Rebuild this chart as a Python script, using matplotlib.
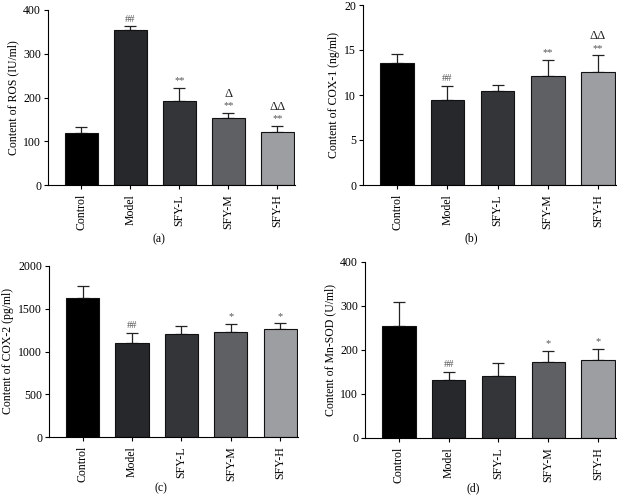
import matplotlib.pyplot as plt
import numpy as np

plt.rcParams["font.family"] = ["Liberation Serif", "DejaVu Serif"]

groups = ["Control", "Model", "SFY-L", "SFY-M", "SFY-H"]
colors = ["#000000", "#27282b", "#343539", "#5f6064", "#9c9ea1"]

ros = [120, 355, 193, 153, 122]
ros_err = [13, 8, 29, 12, 13]
ros_stars = ["", "##", "**", "**", "**"]
ros_delta = ["", "", "", "Δ", "ΔΔ"]

cox1 = [13.6, 9.5, 10.4, 12.1, 12.6]
cox1_err = [1.0, 1.5, 0.7, 1.8, 1.8]
cox1_stars = ["", "##", "", "**", "**"]
cox1_delta = ["", "", "", "", "ΔΔ"]

cox2 = [1620, 1095, 1200, 1230, 1260]
cox2_err = [150, 125, 100, 95, 70]
cox2_stars = ["", "##", "", "*", "*"]
cox2_delta = ["", "", "", "", ""]

mnsod = [255, 132, 140, 173, 177]
mnsod_err = [53, 18, 30, 25, 26]
mnsod_stars = ["", "##", "", "*", "*"]
mnsod_delta = ["", "", "", "", ""]

panels = [
    (ros, ros_err, ros_stars, ros_delta, "Content of ROS (IU/ml)", 400, 100, "(a)"),
    (cox1, cox1_err, cox1_stars, cox1_delta, "Content of COX-1 (ng/ml)", 20, 5, "(b)"),
    (cox2, cox2_err, cox2_stars, cox2_delta, "Content of COX-2 (pg/ml)", 2000, 500, "(c)"),
    (mnsod, mnsod_err, mnsod_stars, mnsod_delta, "Content of Mn-SOD (U/ml)", 400, 100, "(d)"),
]

W, H = 631, 500
# axes boxes in pixels: left, right, top, bottom, tag x, tag y
boxes = [(48, 295, 10, 185, 159, 239), (363, 616, 5, 185, 471, 238),
         (49, 298, 266, 437, 161, 488), (365, 616, 262, 438, 473, 488)]

fig = plt.figure(figsize=(W / 100, H / 100), dpi=100)
x = np.arange(len(groups))

for (vals, errs, stars, deltas, ylabel, ymax, step, tag), (l, r, t, b, tx, ty) in zip(panels, boxes):
    ax = fig.add_axes([l / W, 1 - b / H, (r - l) / W, (b - t) / H])
    ax.bar(x, vals, width=0.67, color=colors, edgecolor="#111111", linewidth=0.8, zorder=2)
    ax.errorbar(x, vals, yerr=[np.zeros(len(vals)), errs], fmt="none",
                ecolor="#222222", elinewidth=0.9, capsize=4.5, capthick=0.9, zorder=1)
    for xi, v, e, s, d in zip(x, vals, errs, stars, deltas):
        top = v + e + ymax * 0.015
        if s:
            ax.text(xi, top, s, ha="center", va="bottom", fontsize=7.5, color="#555555")
        if d:
            ax.text(xi, top + ymax * 0.06, d, ha="center", va="bottom",
                    fontsize=9, color="#222222")
    ax.set_xlim(-0.68, 4.36)
    ax.set_ylim(0, ymax)
    ax.set_yticks(np.arange(0, ymax + step, step))
    ax.set_xticks(x)
    ax.set_xticklabels(groups, rotation=90, fontsize=8.5)
    ax.tick_params(axis="y", labelsize=8.5, length=3, width=0.8, pad=2)
    ax.tick_params(axis="x", length=3, width=0.8)
    ax.set_ylabel(ylabel, fontsize=8.5, labelpad=3)
    ax.spines["top"].set_visible(False)
    ax.spines["right"].set_visible(False)
    ax.spines["left"].set_linewidth(0.8)
    ax.spines["bottom"].set_linewidth(0.8)
    fig.text(tx / W, 1 - ty / H, tag, ha="center", va="center", fontsize=8.5)

fig.savefig("out.png", dpi=100)
